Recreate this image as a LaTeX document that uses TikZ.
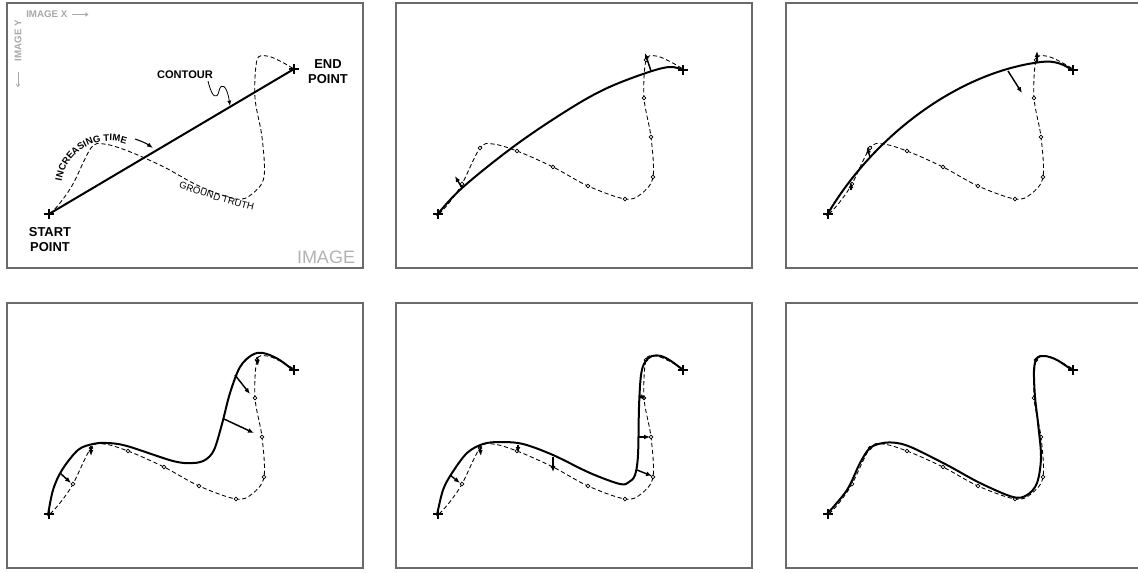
\documentclass[tikz,border=0pt]{standalone}
\usepackage{fontspec}
\setmainfont{Liberation Sans}
\usepackage{xcolor}
\definecolor{frame1}{HTML}{6A6A6A}
\definecolor{gray1}{HTML}{A8A8A8}
\definecolor{gray2}{HTML}{B2B2B2}
\usepackage{tikz}
\usetikzlibrary{arrows.meta,decorations.text}

\newcommand{\truthcurve}{%
  \draw[truth] plot[smooth,tension=0.55] coordinates {(50,214) (60,203) (73,184)
    (91,148) (104,144) (128,151) (164,167) (199,186) (236,199) (252,194)
    (264,177) (262,137) (255,98) (257,60) (267,56) (280,61) (294,69)};}
\newcommand{\truthsamples}{%
  \foreach \xx/\yy in {73/184,91/148,128/151,164/167,199/186,236/199,
                       264/177,262/137,255/98,257/60}
    \draw[sample] (\xx,\yy) circle[radius=1.4pt];}
\newcommand{\plusat}[1]{%
  \draw[plusmark] (#1) ++(-5,0) -- ++(10,0) (#1) ++(0,-5) -- ++(0,10);}

\begin{document}
\begin{tikzpicture}[
  x=0.75pt, y=-0.75pt,
  panel/.style={draw=frame1,line width=0.8pt},
  truth/.style={dash pattern=on 3.2pt off 2pt,line width=0.65pt},
  sample/.style={draw,fill=white,line width=0.5pt},
  contour/.style={line width=1.5pt,line cap=round},
  plusmark/.style={line width=1.5pt},
  force/.style={-{Latex[length=4.5pt,width=3.6pt]},line width=1.1pt},
  squiggle/.style={-{Latex[length=4pt,width=3pt]},line width=0.6pt},
  ptlabel/.style={font=\bfseries\fontsize{9.7}{11.3}\selectfont,align=center,inner sep=0pt},
  axislbl/.style={font=\bfseries\fontsize{7.3}{7.5}\selectfont,text=gray1,inner sep=0pt},
  axisarrow/.style={-{To[length=2.5pt,width=3pt]},draw=gray1,line width=0.6pt},
]
  \useasboundingbox (0,0) rectangle (1138,572);
  \clip (0,0) rectangle (1138,572);

  % six panels, three across and two down
  \foreach \dx/\dy in {0/0,389/0,779/0,0/300,389/300,779/300}
    \draw[panel] (7+\dx,3+\dy) rectangle ++(356,265);

  % panel 1: straight first contour with the annotations
  \coordinate (S1) at (49,214);
  \coordinate (E1) at (294,69);
  \truthcurve
  \draw[contour] (S1) -- (E1);
  \plusat{S1} \plusat{E1}

  \node[axislbl,anchor=west] (imx) at (26,14.5) {IMAGE X};
  \draw[axisarrow] ([xshift=3.5pt]imx.east) -- ++(16,0);
  \node[axislbl,rotate=90] (imy) at (18,40.5) {IMAGE Y};
  \draw[axisarrow] ([yshift=-8pt]imy.west) -- ++(0,15);

  \node[ptlabel] (endlbl) at (328,71.5) {END\\POINT};
  \node[ptlabel] (startlbl) at (50,239.5) {START\\POINT};
  \node[ptlabel,font=\bfseries\fontsize{8.3}{9}\selectfont] (contourlbl) at (185,75) {CONTOUR};
  \coordinate (sq) at (208,81);
  \coordinate (hit) at (230,106);
  \draw[squiggle] (sq) .. controls (212,98) and (217,100) .. (219,91)
    .. controls (221,82) and (227,85) .. (hit);

  \path[decorate,decoration={text along path,text align=center,
      text={|\bfseries\fontsize{7.1}{8}\selectfont|INCREASING TIME}}]
    (61,189) arc[start angle=-180,end angle=-60,radius=48];
  \coordinate (tm1) at (135,139);
  \coordinate (tm2) at (153,148);
  \draw[-{Latex[length=4.5pt,width=3.4pt]},line width=0.8pt] (tm1) to[bend left=8] (tm2);

  \path[decorate,decoration={text along path,text align=center,
      text={|\fontsize{7.2}{8}\selectfont|GROUND TRUTH}}]
    (171,185) .. controls (199,195) and (229,205) .. (261,212);

  \node[font=\fontsize{13.5}{14}\selectfont,text=gray2,inner sep=0pt] (imglbl) at (326,257.5) {IMAGE};

  % panels 2-6: ground truth with its sample points
  \foreach \dx/\dy in {389/0,779/0,0/300,389/300,779/300}{
    \begin{scope}[shift={(\dx,\dy)}]
      \truthcurve
      \truthsamples
    \end{scope}
  }

  % panel 2
  \begin{scope}[shift={(389,0)}]
    \draw[contour] plot[smooth,tension=0.6] coordinates {(48,215) (73,188)
      (124,147) (174,113) (214,90) (254,74) (280,67) (294,70)};
    \foreach \xa/\ya/\xb/\yb in {73/188/66/176,262/71/256/53}
      \draw[force] (\xa,\ya) -- (\xb,\yb);
  \end{scope}

  % panel 3
  \begin{scope}[shift={(779,0)}]
    \draw[contour] (48,215) .. controls (95,135) and (180,72) .. (262,62)
      .. controls (276,60) and (286,65) .. (293,70);
    \foreach \xa/\ya/\xb/\yb in {72/190/72/182,91/157/88/147,229/71/243/93,258/62/258/51}
      \draw[force] (\xa,\ya) -- (\xb,\yb);
  \end{scope}

  % panel 4
  \begin{scope}[shift={(0,300)}]
    \draw[contour] plot[smooth,tension=0.55] coordinates {(48,215) (53,190)
      (62,170) (78,150) (93,144) (107,143) (127,146) (173,161) (193,163)
      (205,160) (214,150) (222,124) (230,93) (240,67) (252,55) (263,53)
      (278,59) (293,70)};
    \foreach \xa/\ya/\xb/\yb in {60/173/71/183,91/147/91/156,235/75/250/94,
                                 224/119/254/133,257/57/258/66}
      \draw[force] (\xa,\ya) -- (\xb,\yb);
  \end{scope}

  % panel 5
  \begin{scope}[shift={(389,300)}]
    \draw[contour] plot[smooth,tension=0.55] coordinates {(48,215) (54,190)
      (63,173) (78,153) (94,144) (111,142) (134,144) (164,155) (201,173)
      (231,184) (240,182) (246,175) (249,155) (250,107) (252,75) (256,62)
      (263,56) (272,56) (282,61) (294,70)};
    \foreach \xa/\ya/\xb/\yb in {61/175/71/183,91/147/92/156,129/145/129/153,
                                 164/157/164/172,248/170/263/176,250/137/261/137,
                                 251/96/257/99}
      \draw[force] (\xa,\ya) -- (\xb,\yb);
  \end{scope}

  % panel 6
  \begin{scope}[shift={(779,300)}]
    \draw[contour] plot[smooth,tension=0.55] coordinates {(48,214) (68,190)
      (81,163) (91,148) (104,143) (118,143) (134,148) (168,165) (201,183)
      (234,197) (248,195) (258,183) (262,157) (259,123) (256,97) (255,70)
      (258,58) (266,56) (278,60) (293,70)};
  \end{scope}

  % start and end marks
  \foreach \dx/\dy in {389/0,779/0,0/300,389/300,779/300}{
    \begin{scope}[shift={(\dx,\dy)}]
      \coordinate (S) at (49,214);
      \coordinate (E) at (294,70);
      \plusat{S} \plusat{E}
    \end{scope}
  }
\end{tikzpicture}
\end{document}
